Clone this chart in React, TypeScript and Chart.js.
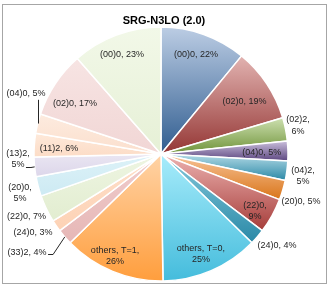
import React, { useEffect, useRef } from 'react';
import { Chart, registerables } from 'chart.js';

Chart.register(...registerables);

const TITLE = 'SRG-N3LO (2.0)';

// Slice categories (clockwise from 12 o'clock): right half T=0, left half T=1
const categories = [
  '(00)0', '(02)0', '(02)2', '(04)0', '(04)2', '(20)0', '(22)0', '(24)0', 'others, T=0',
  'others, T=1', '(33)2', '(24)0', '(22)0', '(20)0', '(13)2', '(11)2', '(04)0', '(02)0', '(00)0',
];

// Percent values
const values = [22, 19, 6, 5, 5, 5, 9, 4, 25, 26, 4, 3, 7, 5, 5, 6, 5, 17, 23];

// Whether the label wraps after the comma
const labelBreaks = [
  false, false, true, false, true, false, true, false, true,
  true, false, false, false, true, true, false, false, false, false,
];

// Gradient colours (top / bottom of each slice)
const lightColors = [
  '#BCCDE4', '#E2B3B1', '#CDE0B0', '#C9BEDB', '#B3DAE6', '#F8C59A', '#EDB3B1', '#86C9DC', '#A8ECFB',
  '#FFD3A6', '#F0CDCD', '#FEE0CB', '#EEF5E2', '#DDF2F8', '#EAE6F2', '#FEE9DA', '#FDEBDF', '#F7E4E3', '#F2F8E8',
];
const darkColors = [
  '#2F5C8F', '#943634', '#6E9238', '#5C4680', '#2A88A6', '#D9751A', '#A63D3A', '#2A89A7', '#44BCDC',
  '#FF9E3D', '#E6B7B6', '#FDD2B5', '#E2EDD0', '#CDEAF3', '#DCD6EA', '#FCDCC6', '#FBDFCD', '#F1D6D5', '#E6F0D6',
];

// Label placement: [angle in degrees clockwise from 12 o'clock, radius fraction]
const labelPolar: [number, number][] = [
  [19.3, 0.834], [57.9, 0.776], [78.2, 1.102], [89.3, 0.793], [98.9, 1.132], [108.9, 1.165],
  [121.2, 0.866], [128.4, 1.166], [158.2, 0.847], [204.3, 0.88], [233.8, 1.307], [238.3, 1.184],
  [244.9, 1.169], [254.5, 1.152], [268.0, 1.127], [272.8, 0.804], [294.3, 1.166], [300.2, 0.783],
  [338.5, 0.838],
];

// Leader lines: '' none, 'side' from label's right, 'below' from label's bottom
const leaderKind = [
  '', '', '', '', '', '', '', '', '',
  '', 'side', '', '', '', 'side', '', 'below', '', '',
];

function sliceGradient(context: any) {
  const i = context.dataIndex;
  const chart = context.chart;
  const area = chart.chartArea;
  if (i === undefined || !area) return lightColors[i ?? 0];
  const cx = (area.left + area.right) / 2;
  const cy = (area.top + area.bottom) / 2;
  const R = Math.min(area.right - area.left, area.bottom - area.top) / 2;
  const total = values.reduce((a, b) => a + b, 0);
  let start = 0;
  for (let k = 0; k < i; k++) start += values[k];
  const a0 = (start / total) * Math.PI * 2;
  const a1 = ((start + values[i]) / total) * Math.PI * 2;
  const ys = [cy, cy - R * Math.cos(a0), cy - R * Math.cos(a1)];
  if (a0 < 1e-6 || a1 > Math.PI * 2 - 1e-6) ys.push(cy - R);
  if (a0 < Math.PI && a1 > Math.PI) ys.push(cy + R);
  const yMin = Math.min(...ys);
  const yMax = Math.max(...ys);
  const g = chart.ctx.createLinearGradient(0, yMin, 0, yMax + 0.01);
  g.addColorStop(0, lightColors[i]);
  g.addColorStop(1, darkColors[i]);
  return g;
}

const labelPlugin = {
  id: 'sliceLabels',
  afterDatasetsDraw(chart: any) {
    const ctx = chart.ctx;
    const meta = chart.getDatasetMeta(0);
    ctx.save();
    // title
    ctx.font = 'bold 11px "Liberation Sans", Arial, sans-serif';
    ctx.fillStyle = '#000000';
    ctx.textAlign = 'center';
    ctx.textBaseline = 'middle';
    ctx.fillText(TITLE, 164, 20.5);

    ctx.font = '9px "Liberation Sans", Arial, sans-serif';
    const lh = 11.5;
    meta.data.forEach((arc: any, i: number) => {
      const p = arc.getProps(['x', 'y', 'outerRadius', 'startAngle', 'endAngle'], true);
      const [deg, frac] = labelPolar[i];
      const a = (deg * Math.PI) / 180;
      const lx = p.x + frac * p.outerRadius * Math.sin(a);
      const ly = p.y - frac * p.outerRadius * Math.cos(a);
      const lines = labelBreaks[i]
        ? [categories[i] + ',', values[i] + '%']
        : [categories[i] + ', ' + values[i] + '%'];
      ctx.fillStyle = '#262626';
      lines.forEach((t, k) => {
        ctx.fillText(t, lx, ly + (k - (lines.length - 1) / 2) * lh);
      });
      const kind = leaderKind[i];
      if (kind) {
        const mid = (p.startAngle + p.endAngle) / 2;
        const ex = p.x + p.outerRadius * Math.cos(mid);
        const ey = p.y + p.outerRadius * Math.sin(mid);
        ctx.strokeStyle = '#262626';
        ctx.lineWidth = 1;
        ctx.beginPath();
        if (kind === 'side') {
          const last = lines[lines.length - 1];
          const w = ctx.measureText(last).width;
          const lastY = ly + ((lines.length - 1) / 2) * lh;
          const sx = lx + w / 2 + 1.5;
          const sy = Math.round(lastY + 2) + 0.5;
          ctx.moveTo(sx, sy);
          ctx.lineTo(sx + 5, sy);
          ctx.lineTo(ex, ey);
        } else {
          const sx = Math.round(ex) + 0.5;
          const sy = ly + (lines.length * lh) / 2 + 1;
          ctx.moveTo(sx, sy);
          ctx.lineTo(sx, ey);
        }
        ctx.stroke();
      }
    });
    ctx.restore();
  },
};

export default function App() {
  const canvasRef = useRef<HTMLCanvasElement | null>(null);

  useEffect(() => {
    if (!canvasRef.current) return;
    const chart = new Chart(canvasRef.current, {
      type: 'pie',
      data: {
        labels: categories,
        datasets: [
          {
            data: values,
            backgroundColor: sliceGradient,
            borderColor: '#ffffff',
            borderWidth: 1.5,
          },
        ],
      },
      options: {
        responsive: false,
        animation: false,
        radius: 127,
        layout: { padding: { top: 27, bottom: 5, left: 34, right: 45 } },
        plugins: {
          legend: { display: false },
          title: { display: false },
          tooltip: { enabled: false },
        },
        events: [],
      } as any,
      plugins: [labelPlugin],
    });
    return () => chart.destroy();
  }, []);

  return (
    <div style={{ position: 'fixed', left: 0, top: 0, width: 333, height: 286, background: '#ffffff' }}>
      <div
        style={{
          position: 'absolute',
          left: 2,
          top: 4,
          width: 325,
          height: 280,
          border: '1px solid #A6A6A6',
          boxSizing: 'border-box',
        }}
      />
      <canvas
        ref={canvasRef}
        width={333}
        height={286}
        style={{ position: 'absolute', left: 0, top: 0, width: 333, height: 286 }}
      />
    </div>
  );
}
